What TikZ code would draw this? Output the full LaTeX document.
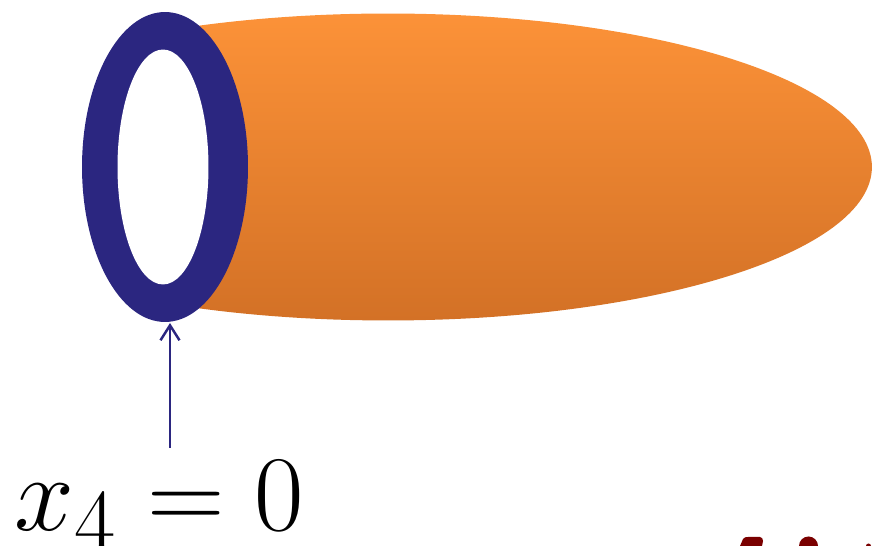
\documentclass[tikz,border=0pt]{standalone}
\usepackage{amsmath}
\usetikzlibrary{arrows.meta}
\definecolor{ringblue}{RGB}{43,38,128}
\definecolor{tubetop}{RGB}{252,146,56}
\definecolor{tubebot}{RGB}{211,113,38}
\definecolor{capred}{RGB}{122,0,0}
\tikzset{
  tube/.style={top color=tubetop, bottom color=tubebot, draw=none},
  ringfill/.style={fill=ringblue},
  holefill/.style={fill=white},
  pointer/.style={-{Straight Barb[length=3mm,width=3.8mm,line width=1.4pt]}, line width=1.3pt, ringblue},
  bigmath/.style={font=\Huge, scale=2.46, inner sep=0pt},
}

\begin{document}
\begin{tikzpicture}[x=0.02cm, y=-0.02cm]
  \useasboundingbox (0,0) rectangle (876,546);
  % orange tube, its open end hidden by the ring
  \begin{scope}
    \clip (166,0) rectangle (880,340);
    \path[tube] (388,167) ellipse [x radius=9.68cm, y radius=3.07cm];
  \end{scope}
  % ring at the open end
  \path[ringfill] (165,167) ellipse [x radius=1.66cm, y radius=3.1cm];
  \path[holefill] (163,167) ellipse [x radius=0.91cm, y radius=2.35cm];
  \coordinate (ringbot) at (170,323);
  \coordinate (tail) at (170,448);
  \node[bigmath, anchor=base west] (lbl) at (14,531) {$x_4 = 0$};
  \draw[pointer] (tail) -- (ringbot);
  % cut-off red marks at the lower edge
  \fill[capred] (740,546) -- (743,539) to[out=60,in=180] (748,537) -- (760,537)
                to[out=0,in=90] (763,541) -- (762,546) -- cycle;
  \fill[capred] (799,546) arc[start angle=180, end angle=0, radius=0.19cm] -- cycle;
  \fill[capred] (866,546) arc[start angle=180, end angle=0, radius=0.05cm] -- cycle;
\end{tikzpicture}
\end{document}
